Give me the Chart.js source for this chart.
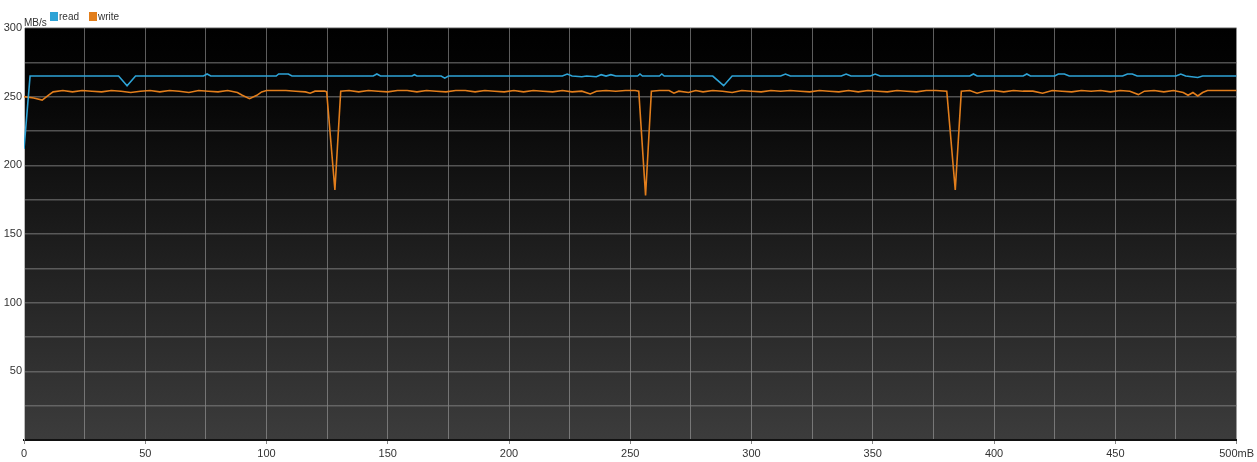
<!DOCTYPE html>
<html>
<head>
<meta charset="utf-8">
<script src="https://cdn.jsdelivr.net/npm/chart.js@4"></script>
<style>
html,body{margin:0;padding:0;background:#fff;}
canvas{display:block;}
</style>
</head>
<body>
<canvas id="c" width="1257" height="462"></canvas>
<script>
// ---- data ----
const seriesNames = ['read', 'write'];
const unitLabel = 'MB/s';
const xTickLabels = ['0','50','100','150','200','250','300','350','400','450','500mB'];
const yTickLabels = ['50','100','150','200','250','300'];

const readX = [0,2.5,39,42.5,46,74,75.5,77,104,105,109,110.5,144,145.5,147,160,161,162,172,173.5,175,222,224,226,230,232,236,238,240,242,244,253,254,255,262,263,264,284,288.5,292,312,314,316,337,339,341,349,351,353,390,391.5,393,412,413.5,415,425,426.5,429,431,453,455,457,459,475,477,479,484,486,500];
const readY = [212,265,265,258,265,265,266.5,265,265,266.5,266.5,265,265,266.5,265,265,266,265,265,263.5,265,265,266.5,265,264.5,265,264.5,266,265,266,265,265,266.5,265,265,266.5,265,265,258,265,265,266.5,265,265,266.5,265,265,266.5,265,265,266.5,265,265,266.5,265,265,266.5,266.5,265,265,266.5,266.5,265,265,266.5,265,264,265,265];

const writeX = [0,4,7.5,10,12,16,20,24,28,32,36,40,44,48,52,56,60,64,68,72,76,80,84,88,90,93,96,98,100,104,108,112,116,118,120,124,124.8,128.2,130.6,134,138,142,146,150,154,158,162,166,170,174,178,182,186,190,194,198,202,206,210,214,218,222,226,230,233.5,236,240,244,248,252,253.5,256.3,258.7,262,266,268,270,274,277,280,284,288,292,296,300,304,308,312,316,320,324,328,332,336,340,344,348,352,356,360,364,368,372,376,380.5,384,386.5,390,393,396,400,404,408,412,416,420,424,428,432,436,440,444,448,452,456,459.5,462,466,470,474,478,480,482,484,486,488,492,496,500];
const writeY = [250,249,247.5,251,253.5,254.5,253.5,254.5,254,253.5,254.5,254,253,254,254.5,253.5,254.5,254,253,254.5,254,253.5,254.5,253,251,248.5,251,253.5,254.5,254.5,254.5,254,253.5,252.5,254,254,253.5,182,254,254.5,253.5,254.5,254,253.5,254.5,254.5,253.5,254.5,254,253.5,254.5,254.5,253.5,254.5,254,253.5,254.5,253.5,254.5,254,253.5,254.5,253.5,254,252,254,254.5,254,254.5,254.5,254,178,254,254.5,254.5,252.5,254,253,254.5,253.5,254.5,254,253,254.5,254,253.5,254.5,254,254.5,254,253.5,254.5,254,253.5,254.5,253.5,254.5,254,253.5,254.5,254,253.5,254.5,254.5,254,182,254,254.5,252.5,254,254.5,253.5,254.5,254,254,252.5,254.5,254,253.5,254.5,254,254.5,253.5,254.5,254,251.5,254,254.5,253.5,254.5,253,251,253,250.5,253,254.5,254.5,254.5,254.5];

const colors = ['#2ea3d6', '#e27e1c'];
const FONT = '"Liberation Sans Narrow", "Liberation Sans", Arial, sans-serif';

function pts(xs, ys){ return xs.map((x,i)=>({x:x, y:ys[i]})); }

const bgPlugin = {
  id: 'bg',
  beforeDraw(chart){
    const {ctx, chartArea:a} = chart;
    const g = ctx.createLinearGradient(0, a.top, 0, a.bottom);
    g.addColorStop(0, '#000000');
    g.addColorStop(0.15, '#050505');
    g.addColorStop(1, '#3c3c3c');
    ctx.save();
    ctx.fillStyle = g;
    ctx.fillRect(a.left, a.top, a.right - a.left, a.bottom - a.top);
    ctx.restore();
  },
  afterDraw(chart){
    const ctx = chart.ctx;
    ctx.save();
    ctx.font = '10px ' + FONT;
    ctx.textBaseline = 'alphabetic';
    ctx.fillStyle = '#333';
    ctx.fillText(unitLabel, 24, 26);
    // legend
    const items = [{x:50, tx:59}, {x:89, tx:98}];
    items.forEach((it, i) => {
      ctx.fillStyle = colors[i];
      ctx.fillRect(it.x, 12, 8, 9);
      ctx.fillStyle = '#333';
      ctx.fillText(seriesNames[i], it.tx, 20);
    });
    ctx.restore();
  }
};

new Chart(document.getElementById('c'), {
  type: 'line',
  data: {
    datasets: [
      {label: seriesNames[0], data: pts(readX, readY), borderColor: colors[0], borderWidth: 1.6, pointRadius: 0, tension: 0},
      {label: seriesNames[1], data: pts(writeX, writeY), borderColor: colors[1], borderWidth: 1.6, pointRadius: 0, tension: 0}
    ]
  },
  options: {
    responsive: false,
    animation: false,
    devicePixelRatio: 1,
    layout: {padding: {top: 28, right: 20, left: 0, bottom: 0}},
    plugins: {legend: {display: false}, tooltip: {enabled: false}},
    scales: {
      x: {
        type: 'linear', min: 0, max: 500,
        afterFit(s){ s.height = 22; },
        ticks: {
          stepSize: 25, autoSkip: false, maxRotation: 0, padding: 3,
          color: '#333', font: {family: FONT, size: 11},
          callback(v){ if (v % 50 !== 0) return ''; return xTickLabels[v/50]; }
        },
        grid: {color: 'rgba(170,170,170,0.55)', lineWidth: 1, tickLength: 4,
               tickColor: (c) => (c.tick && c.tick.value % 50 === 0) ? '#888' : 'rgba(0,0,0,0)'},
        border: {color: '#111', width: 2}
      },
      y: {
        min: 0, max: 300,
        afterFit(s){ s.width = 24; },
        ticks: {
          stepSize: 25, autoSkip: false, padding: 2,
          color: '#333', font: {family: FONT, size: 11},
          callback(v){ if (v === 0 || v % 50 !== 0) return ''; return yTickLabels[v/50 - 1]; }
        },
        grid: {color: 'rgba(130,130,130,0.6)', lineWidth: 1.5, drawTicks: false},
        border: {color: '#bbb', width: 1}
      }
    }
  },
  plugins: [bgPlugin]
});
</script>
</body>
</html>
